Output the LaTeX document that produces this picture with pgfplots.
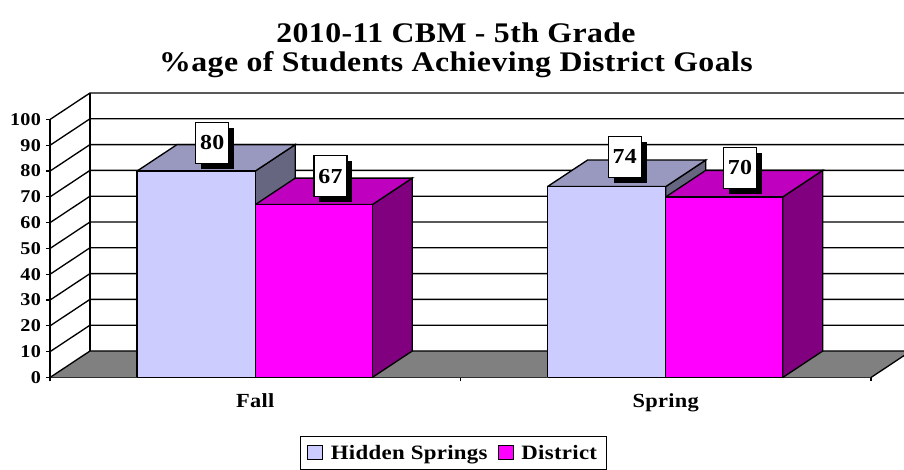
\documentclass[border=0pt]{standalone}
\usepackage{fontspec}
\setmainfont{Liberation Serif}
\usepackage{pgfplots}
\pgfplotsset{compat=1.18}
\usetikzlibrary{shadows}
\definecolor{hsfront}{HTML}{CCCCFF}
\definecolor{hstop}{HTML}{9999BF}
\definecolor{hsside}{HTML}{666680}
\definecolor{dfront}{HTML}{FF00FF}
\definecolor{dtop}{HTML}{BF00BF}
\definecolor{dside}{HTML}{800080}
\definecolor{floorc}{HTML}{808080}
\newfontfamily\wide[FakeStretch=1.12,LetterSpace=1.5]{Liberation Serif}
\begin{document}
\begin{tikzpicture}
\path[use as bounding box] (-37.5pt,-69.375pt) rectangle ++(678pt,352.5pt);
\begin{axis}[
  at={(0,0)}, anchor=south west,
  scale only axis, width=615.75pt, height=193.5pt,
  xmin=-0.5, xmax=1.5, ymin=0, ymax=100,
  clip=false,
  axis x line=bottom, axis y line=left,
  axis line style={-, line width=1.1pt, black},
  every tick/.style={black, line width=0.9pt},
  tick align=outside,
  major tick length=3pt, minor tick length=3pt,
  xtick={0,1}, xticklabels={Fall,Spring},
  minor xtick={-0.5,0.5,1.5},
  xtick style={draw=none},
  minor x tick style={draw=black, line width=0.9pt},
  ytick={0,10,...,100},
  /pgf/number format/assume math mode=true,
  yticklabel style={font=\wide\bfseries\fontsize{13.5}{15}\selectfont, xshift=-0.3pt},
  xticklabel style={font=\wide\bfseries\fontsize{15}{17}\selectfont, yshift=-5.3pt},
  title={2010-11 CBM - 5th Grade\\\%age of Students Achieving District Goals},
  title style={at={(rel axis cs:0.4945,1.236)}, anchor=center, align=center,
    font=\wide\bfseries\fontsize{21.3}{22}\selectfont},
  legend columns=2,
  legend style={at={(rel axis cs:0.4914,-0.2926)}, anchor=center,
    draw=black, line width=1pt, inner xsep=5pt, inner ysep=4.4pt,
    font=\wide\bfseries\fontsize{15.3}{17}\selectfont,
    /tikz/every even column/.append style={column sep=5.5pt},
    /tikz/every odd column/.append style={column sep=3.7pt}},
  legend image code/.code={\draw[#1, line width=0.9pt] (0pt,-5pt) rectangle (11.25pt,5.5pt);},
  every axis plot/.append style={line width=1pt, line join=miter},
]
% floor
\addplot[forget plot, fill=floorc, draw=none] coordinates {(-0.5,0) (1.5,0) (1.5804,8.48) (1.5804,10.27) (-0.4026,10.27) (-0.5,0)};
\addplot[forget plot, black] coordinates {(1.5,0) (1.5804,8.48)};
% walls and grid lines
\addplot[forget plot, black] coordinates {(-0.5,0) (-0.4026,10.27) (1.5804,10.27)};
\addplot[forget plot, black] coordinates {(-0.5,10) (-0.4026,20.27) (1.5804,20.27)};
\addplot[forget plot, black] coordinates {(-0.5,20) (-0.4026,30.27) (1.5804,30.27)};
\addplot[forget plot, black] coordinates {(-0.5,30) (-0.4026,40.27) (1.5804,40.27)};
\addplot[forget plot, black] coordinates {(-0.5,40) (-0.4026,50.27) (1.5804,50.27)};
\addplot[forget plot, black] coordinates {(-0.5,50) (-0.4026,60.27) (1.5804,60.27)};
\addplot[forget plot, black] coordinates {(-0.5,60) (-0.4026,70.27) (1.5804,70.27)};
\addplot[forget plot, black] coordinates {(-0.5,70) (-0.4026,80.27) (1.5804,80.27)};
\addplot[forget plot, black] coordinates {(-0.5,80) (-0.4026,90.27) (1.5804,90.27)};
\addplot[forget plot, black] coordinates {(-0.5,90) (-0.4026,100.27) (1.5804,100.27)};
\addplot[forget plot, black] coordinates {(-0.5,100) (-0.4026,110.27) (1.5804,110.27)};
\addplot[forget plot, black] coordinates {(-0.4026,10.27) (-0.4026,110.27)};
% Fall, Hidden Springs = 80
\addplot[forget plot, fill=hsside, draw=black] coordinates {(0,0) (0.0974,10.27) (0.0974,90.27) (0,80) (0,0)};
\addplot[forget plot, fill=hstop, draw=black] coordinates {(-0.288,80) (0,80) (0.0974,90.27) (-0.1906,90.27) (-0.288,80)};
\addplot[fill=hsfront, draw=black] coordinates {(-0.288,0) (0,0) (0,80) (-0.288,80) (-0.288,0)};
\addlegendentry{Hidden Springs}
% Fall, District = 67
\addplot[forget plot, fill=dside, draw=black] coordinates {(0.285,0) (0.3824,10.27) (0.3824,77.27) (0.285,67) (0.285,0)};
\addplot[forget plot, fill=dtop, draw=black] coordinates {(0,67) (0.285,67) (0.3824,77.27) (0.0974,77.27) (0,67)};
\addplot[fill=dfront, draw=black] coordinates {(0,0) (0.285,0) (0.285,67) (0,67) (0,0)};
\addlegendentry{District}
% Spring, Hidden Springs = 74
\addplot[forget plot, fill=hsside, draw=black] coordinates {(1,0) (1.0974,10.27) (1.0974,84.27) (1,74) (1,0)};
\addplot[forget plot, fill=hstop, draw=black] coordinates {(0.712,74) (1,74) (1.0974,84.27) (0.8094,84.27) (0.712,74)};
\addplot[forget plot, fill=hsfront, draw=black] coordinates {(0.712,0) (1,0) (1,74) (0.712,74) (0.712,0)};
% Spring, District = 70
\addplot[forget plot, fill=dside, draw=black] coordinates {(1.285,0) (1.3824,10.27) (1.3824,80.27) (1.285,70) (1.285,0)};
\addplot[forget plot, fill=dtop, draw=black] coordinates {(1,70) (1.285,70) (1.3824,80.27) (1.0974,80.27) (1,70)};
\addplot[forget plot, fill=dfront, draw=black] coordinates {(1,0) (1.285,0) (1.285,70) (1,70) (1,0)};
% data labels
\addplot[forget plot, draw=none, point meta=explicit symbolic,
  nodes near coords,
  nodes near coords style={anchor=center, draw=black, fill=white, line width=0.9pt,
    minimum width=24.75pt, minimum height=30.75pt, inner sep=0pt, text=black,
    font=\wide\bfseries\fontsize{16}{18}\selectfont,
    general shadow={fill=black, shadow xshift=4pt, shadow yshift=-4pt}}]
  coordinates {(-0.105,90.9) [80] (0.1833,78) [67] (0.9,85.5) [74] (1.181,81.2) [70]};
\end{axis}
\end{tikzpicture}
\end{document}
